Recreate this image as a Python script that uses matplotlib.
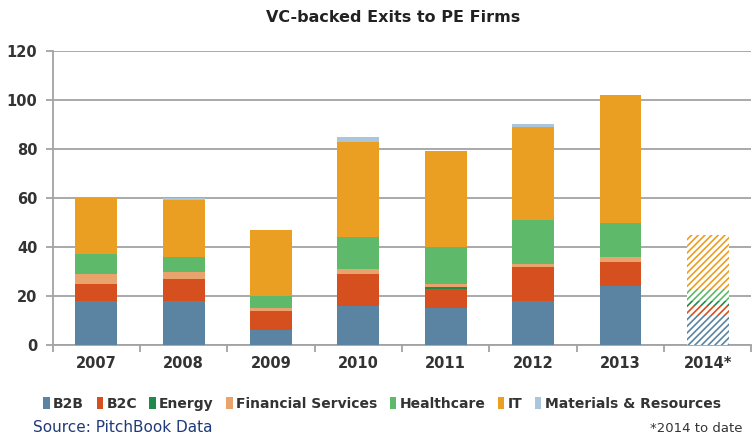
import matplotlib
matplotlib.use("Agg")
import matplotlib.pyplot as plt
from matplotlib.patches import Patch
import numpy as np

years = ["2007", "2008", "2009", "2010", "2011", "2012", "2013", "2014*"]
series_names = ["B2B", "B2C", "Energy", "Financial Services", "Healthcare", "IT",
                "Materials & Resources"]
b2b = [18, 18, 6, 16, 15, 18, 24, 12]
b2c = [7, 9, 8, 13, 8, 14, 10, 4]
energy = [0, 0, 0, 0, 0.5, 0, 0, 2]
fin_services = [4, 3, 1, 2, 1.5, 1, 2, 0]
healthcare = [8, 6, 5, 13, 15, 18, 14, 5]
it = [23, 23, 27, 39, 39, 38, 52, 22]
materials = [0, 1, 0, 2, 0, 1, 0, 0]

colors = ["#5a84a2", "#d6501f", "#1f8a4c", "#e9a46e", "#5eb96b", "#eb9f22", "#a9c6dd"]

plt.rcParams['hatch.linewidth'] = 1.2

fig = plt.figure(figsize=(7.53, 4.47), dpi=100)
ax = fig.add_axes([0.070, 0.228, 0.928, 0.658])

data = [b2b, b2c, energy, fin_services, healthcare, it, materials]
x = np.arange(len(years))
partial = [y.endswith('*') for y in years]
bottom = np.zeros(len(years))
width = 0.48
for vals, col in zip(data, colors):
    vals = np.array(vals, dtype=float)
    for i in range(len(years)):
        if vals[i] <= 0:
            continue
        if partial[i]:
            ax.bar(x[i], vals[i], width, bottom=bottom[i], facecolor='white',
                   edgecolor=col, linewidth=0, hatch='/////', zorder=3)
        else:
            ax.bar(x[i], vals[i], width, bottom=bottom[i], color=col,
                   linewidth=0, zorder=3)
    bottom += vals

ax.set_xlim(-0.5, len(years) - 0.5)
ax.set_ylim(0, 120)
ax.set_yticks(np.arange(0, 121, 20))
ax.yaxis.grid(True, color='#a3a3a3', linewidth=1.3, zorder=0)
ax.set_axisbelow(True)

for s in ['top', 'right']:
    ax.spines[s].set_visible(False)
for s in ['left', 'bottom']:
    ax.spines[s].set_color('#a3a3a3')
    ax.spines[s].set_linewidth(1.3)

ax.set_xticks(x)
ax.set_xticklabels(years)
ax.set_xticks(np.arange(-0.5, len(years), 1.0), minor=True)
ax.tick_params(axis='x', which='major', length=0, pad=8)
ax.tick_params(axis='x', which='minor', length=5, color='#a3a3a3', width=1.3)
ax.tick_params(axis='y', length=5, color='#a3a3a3', width=1.3, pad=6)
for lab in ax.get_xticklabels() + ax.get_yticklabels():
    lab.set_fontweight('bold')
    lab.set_fontsize(10.5)
    lab.set_color('#333333')

fig.text(393 / 753, 1 - 18 / 447, "VC-backed Exits to PE Firms", ha='center', va='center',
         fontsize=11.5, fontweight='bold', color='#222222')

handles = [Patch(facecolor=c, edgecolor='none') for c in colors]
leg = fig.legend(handles, series_names, loc='center', ncol=7,
                 bbox_to_anchor=(382 / 753, 1 - 404 / 447), frameon=False,
                 handlelength=0.45, handleheight=0.9, handletextpad=0.25,
                 columnspacing=0.9, borderpad=0)
for t in leg.get_texts():
    t.set_fontweight('bold')
    t.set_fontsize(10)
    t.set_color('#333333')

fig.text(33 / 753, 1 - 428 / 447, "Source: PitchBook Data", ha='left', va='center',
         fontsize=11, color='#1f3a7a', family=['Liberation Sans Narrow', 'DejaVu Sans'])
fig.text(743 / 753, 1 - 428 / 447, "*2014 to date", ha='right', va='center',
         fontsize=9.5, color='#333333')

fig.savefig("out.png", dpi=100)
